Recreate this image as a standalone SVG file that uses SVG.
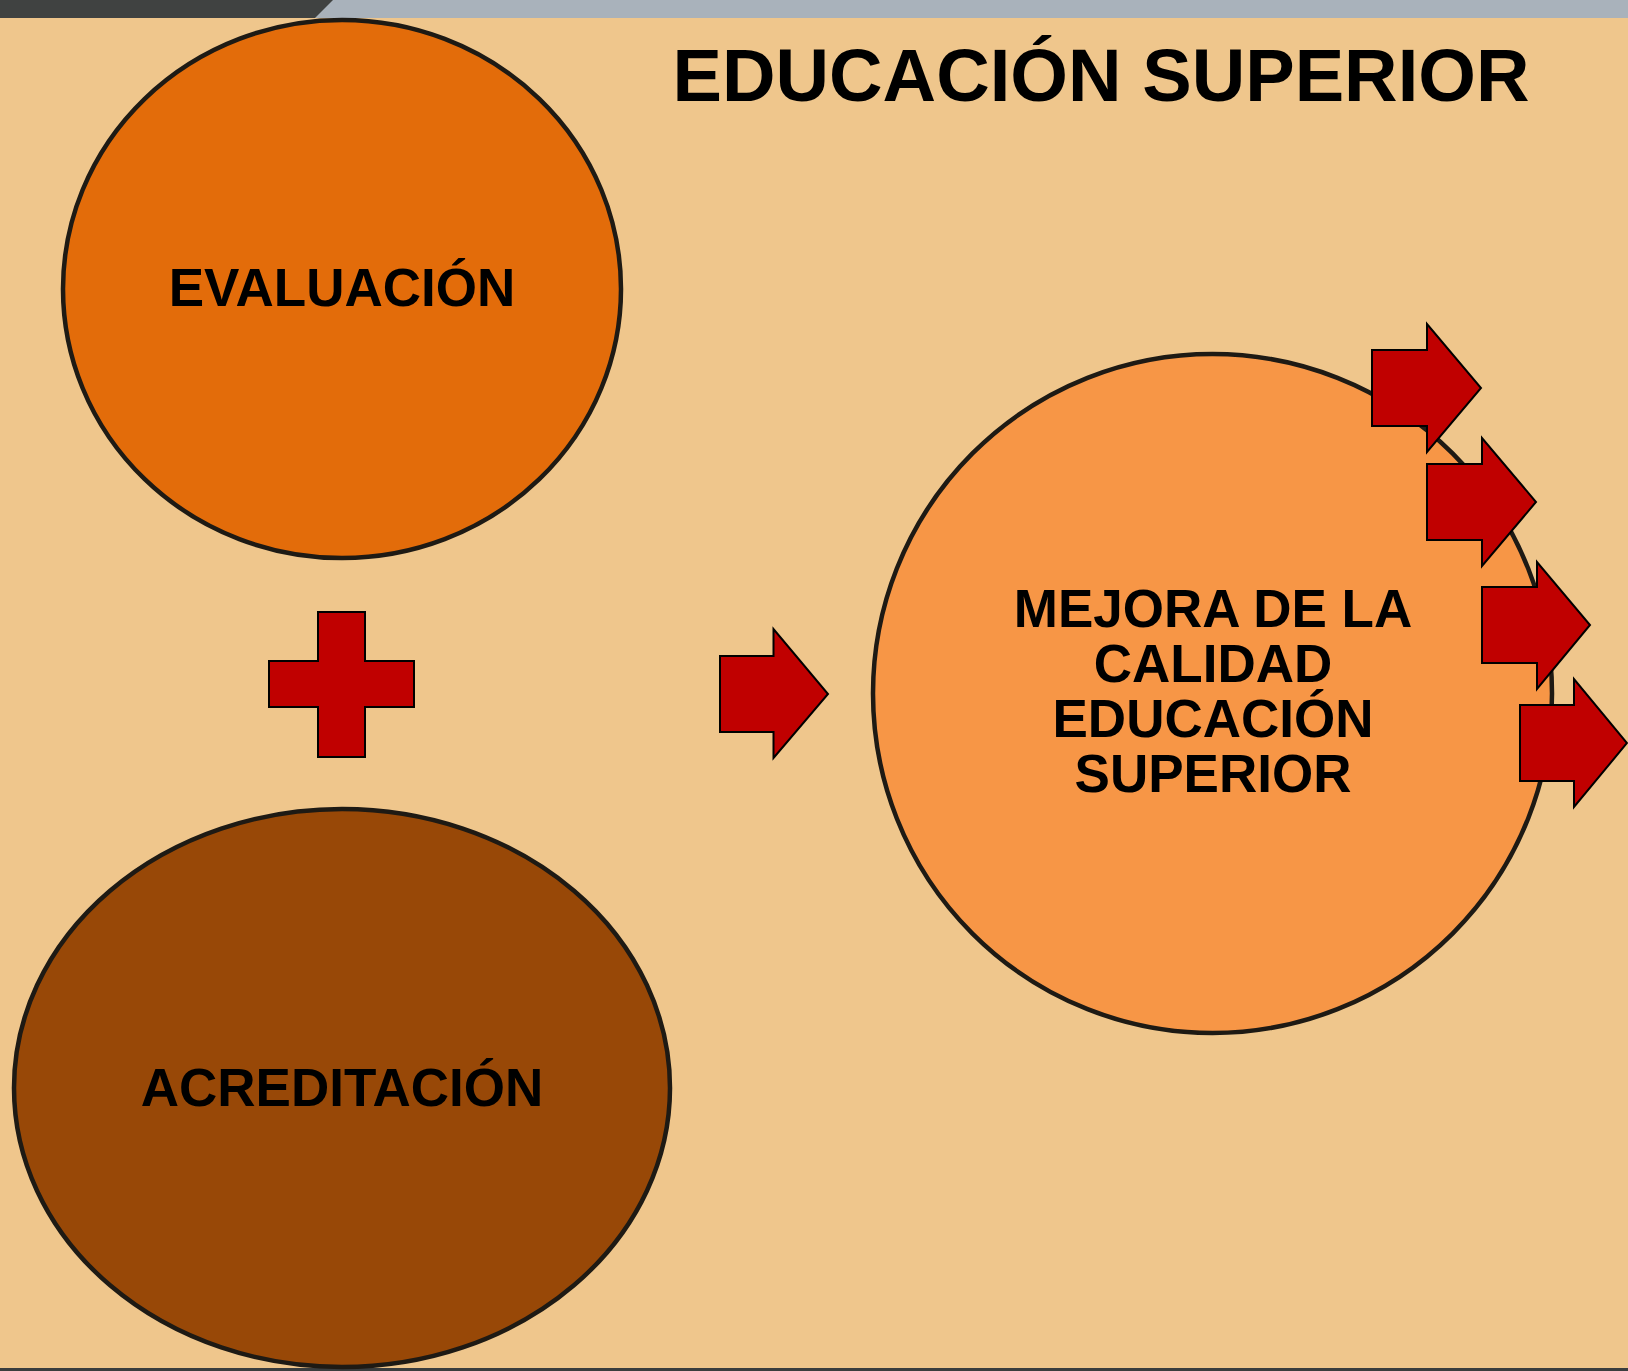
<svg xmlns="http://www.w3.org/2000/svg" width="1628" height="1371" viewBox="0 0 1628 1371">
<style>
.node{stroke:#1E1A14;stroke-width:4.5}
.arrow{fill:#C00000;stroke:#000;stroke-width:2;stroke-linejoin:miter}
.lbl{font-family:"Liberation Sans",Arial,sans-serif;font-weight:bold;fill:#000;text-anchor:middle}
</style>
<rect x="0" y="0" width="1628" height="1371" fill="#EFC68C"/>
<rect x="0" y="0" width="1628" height="18" fill="#A9B2BB"/>
<polygon points="0,0 333,0 315,18 0,18" fill="#404241"/>
<rect x="0" y="1368" width="1628" height="3" fill="#3A3D3E"/>
<text class="lbl" x="1101" y="101" font-size="75" textLength="857" lengthAdjust="spacingAndGlyphs">EDUCACIÓN SUPERIOR</text>
<g id="evaluacion">
<ellipse class="node" cx="342" cy="289" rx="279" ry="269" fill="#E36C0A"/>
<text class="lbl" x="342" y="306" font-size="53">EVALUACIÓN</text>
</g>
<g id="acreditacion">
<ellipse class="node" cx="342" cy="1088" rx="328" ry="279" fill="#984807"/>
<text class="lbl" x="342" y="1106" font-size="53">ACREDITACIÓN</text>
</g>
<g id="mejora">
<circle class="node" cx="1212.5" cy="693.5" r="339.5" fill="#F79646"/>
<text class="lbl" font-size="53"><tspan x="1213" y="627">MEJORA DE LA</tspan><tspan x="1213" y="682">CALIDAD</tspan><tspan x="1213" y="737">EDUCACIÓN</tspan><tspan x="1213" y="792">SUPERIOR</tspan></text>
</g>
<g id="plus">
<polygon class="arrow" points="318,612 365,612 365,661 414,661 414,707 365,707 365,757 318,757 318,707 269,707 269,661 318,661"/>
</g>
<g id="connectors">
<polygon class="arrow" points="720,656 773.5,656 773.5,629 828,694 773.5,758 773.5,732 720,732"/>
<polygon class="arrow" points="1372,350 1427,350 1427,324 1481,388 1427,452 1427,426 1372,426"/>
<polygon class="arrow" points="1427,464 1482,464 1482,438 1536,502 1482,566 1482,540 1427,540"/>
<polygon class="arrow" points="1482,587 1537,587 1537,562 1590,625 1537,689 1537,663 1482,663"/>
<polygon class="arrow" points="1520,705 1574,705 1574,679 1627,743 1574,807 1574,781 1520,781"/>
</g>
</svg>
